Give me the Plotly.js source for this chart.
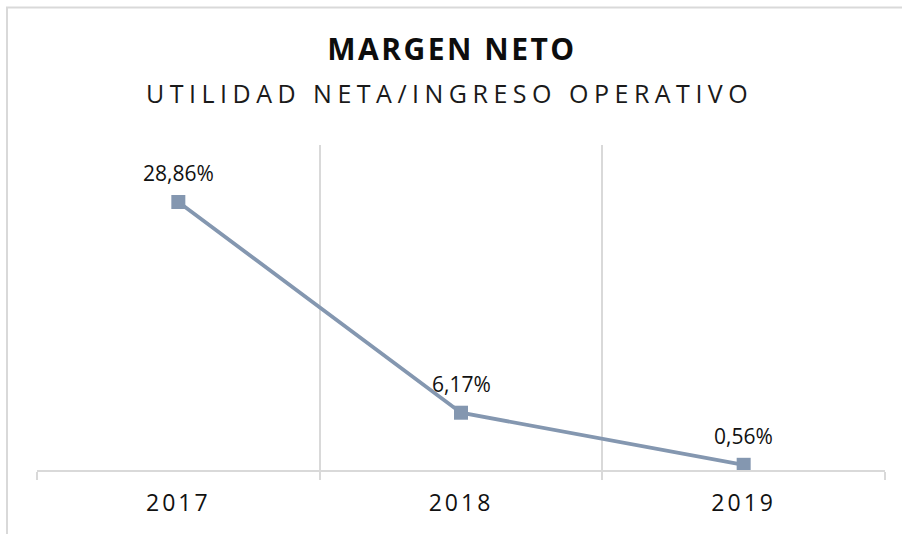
<!DOCTYPE html>
<html>
<head>
<meta charset="utf-8">
<script src="https://cdn.plot.ly/plotly-3.0.1.min.js"></script>
<style>
html,body{margin:0;padding:0;background:#fff;}
#chart{width:902px;height:534px;}
#chart .xtick text{letter-spacing:3px;}
</style>
</head>
<body>
<div id="chart"></div>
<script>
var years = ['2017', '2018', '2019'];
var margenNeto = [28.86, 6.17, 0.56];
var chartTitle = 'MARGEN NETO';
var chartSubtitle = 'UTILIDAD NETA/INGRESO OPERATIVO';

var lineColor = '#8497B0';
var gridColor = '#D9D9D9';
var font = 'Open Sans, DejaVu Sans, sans-serif';

function fmt(v){ return v.toFixed(2).replace('.', ',') + '%'; }

var H = 534, T = 145, B = 64, L = 37, R = 17, W = 902;
var plotH = H - T - B, plotW = W - L - R;
function paperY(px){ return (H - B - px) / plotH; }
function paperX(px){ return (px - L) / plotW; }

var trace = {
  type: 'scatter',
  mode: 'lines+markers',
  x: years,
  y: margenNeto,
  line: {color: lineColor, width: 3.8},
  marker: {symbol: 'square', size: 14, color: lineColor},
  hoverinfo: 'x+y',
  cliponaxis: false
};

var annotations = years.map(function(y, i){
  return {
    x: i, y: margenNeto[i], xref: 'x', yref: 'y',
    text: fmt(margenNeto[i]), showarrow: false,
    yshift: 29, yanchor: 'middle', xanchor: 'center',
    font: {family: font, size: 21, color: '#111111'}
  };
});
annotations.push({
  x: paperX(449), xref: 'paper', y: paperY(93), yref: 'paper',
  xanchor: 'center', yanchor: 'middle', showarrow: false,
  text: '<span style="letter-spacing:5.5px">' + chartSubtitle + '</span>',
  font: {family: font, size: 25, color: '#1a1a1a'}
});

var layout = {
  width: W, height: H,
  margin: {l: L, r: R, t: T, b: B},
  paper_bgcolor: '#fff', plot_bgcolor: '#fff',
  showlegend: false,
  title: {
    text: '<span style="letter-spacing:2.5px"><b>' + chartTitle + '</b></span>',
    x: 452 / W, xanchor: 'center', xref: 'container',
    y: 1 - 49 / H, yanchor: 'middle', yref: 'container',
    font: {family: font, size: 30, color: '#0d0d0d'}
  },
  xaxis: {
    type: 'category',
    categoryorder: 'array', categoryarray: years,
    tickson: 'boundaries',
    range: [-0.5, 2.5],
    tickangle: 0,
    showgrid: true, gridcolor: gridColor, gridwidth: 2,
    showline: true, linecolor: gridColor, linewidth: 2,
    ticks: 'outside', ticklen: 8, tickcolor: gridColor, tickwidth: 2,
    ticklabelstandoff: 11,
    tickfont: {family: font, size: 23, color: '#111111'},
    zeroline: false, fixedrange: true
  },
  yaxis: {
    range: [0, 35],
    showgrid: false, zeroline: false, showline: false,
    showticklabels: false, ticks: '', fixedrange: true
  },
  annotations: annotations,
  shapes: [{
    type: 'rect', xref: 'paper', yref: 'paper',
    x0: paperX(7), x1: 1.2,
    y0: -0.5, y1: paperY(7.5),
    line: {color: gridColor, width: 2}, fillcolor: 'rgba(0,0,0,0)', layer: 'below'
  }]
};

Plotly.newPlot('chart', [trace], layout, {displayModeBar: false, staticPlot: true});
</script>
</body>
</html>
